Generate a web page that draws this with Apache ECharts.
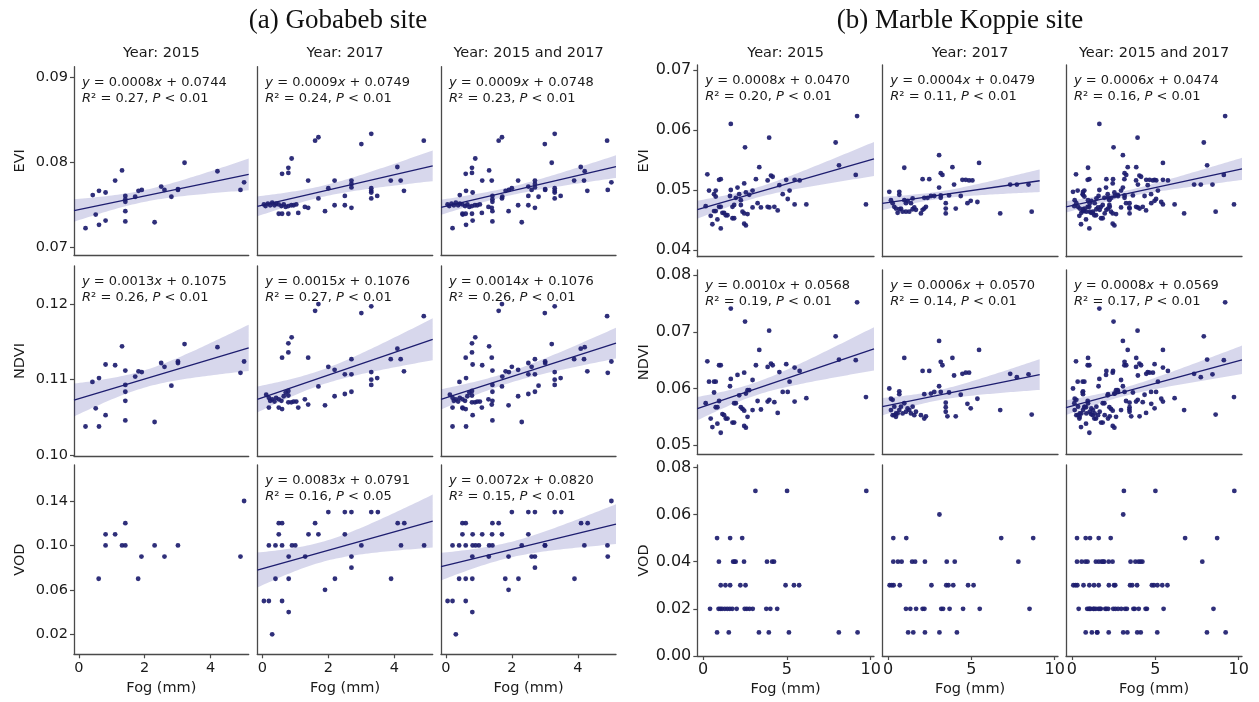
<!DOCTYPE html>
<html><head><meta charset="utf-8">
<script src="https://cdn.jsdelivr.net/npm/echarts@6/dist/echarts.min.js"></script>
<style>html,body{margin:0;padding:0;background:#fff}#c{width:1259px;height:702px}</style>
</head><body><div id="c"></div>
<script>
// ---------------- DATA ----------------
const colTitles = ['Year: 2015', 'Year: 2017', 'Year: 2015 and 2017'];
const rowNames = ['EVI', 'NDVI', 'VOD'];
const xName = 'Fog (mm)';
const siteTitles = ['(a) Gobabeb site', '(b) Marble Koppie site'];

const gobXTicks = [0, 2, 4];
const gobYTicks = [[0.07, 0.08, 0.09], [0.10, 0.11, 0.12], [0.02, 0.06, 0.10, 0.14]];
const mkXTicks = [0, 5, 10];
const mkYTicks = [[0.04, 0.05, 0.06, 0.07], [0.05, 0.06, 0.07, 0.08], [0.00, 0.02, 0.04, 0.06, 0.08]];

// Gobabeb 2015
const gobEvi2015 = [[0.2,0.0722],[0.42,0.0761],[0.51,0.0738],[0.61,0.0766],[0.61,0.0726],[0.81,0.0764],[0.81,0.0731],[1.1,0.0778],[1.31,0.079],[1.41,0.076],[1.41,0.0756],[1.41,0.0753],[1.41,0.0742],[1.41,0.073],[1.71,0.0759],[1.81,0.0766],[1.91,0.0767],[2.3,0.0729],[2.5,0.0771],[2.6,0.0767],[2.81,0.0759],[3.01,0.0767],[3.01,0.0768],[3.21,0.0799],[4.21,0.0789],[4.91,0.0767],[5.02,0.0776]];
const gobNdvi2015 = [[0.2,0.1038],[0.41,0.1097],[0.51,0.1062],[0.61,0.1102],[0.61,0.1038],[0.81,0.112],[0.81,0.1053],[1.1,0.1119],[1.31,0.1144],[1.41,0.1112],[1.41,0.1093],[1.41,0.1084],[1.41,0.1072],[1.41,0.1046],[1.71,0.1104],[1.81,0.1111],[1.91,0.111],[2.3,0.1044],[2.5,0.1122],[2.6,0.1117],[2.81,0.1092],[3.01,0.1122],[3.01,0.1124],[3.21,0.1147],[4.21,0.1143],[4.91,0.1109],[5.02,0.1124]];
const gobVod2015 = [[0.6,0.07],[0.81,0.11],[0.81,0.10],[1.1,0.11],[1.31,0.10],[1.41,0.10],[1.41,0.12],[1.8,0.07],[1.9,0.09],[2.3,0.10],[2.6,0.09],[3.01,0.10],[4.91,0.09],[5.02,0.14]];
// Gobabeb 2017
const gobEvi2017 = [[0.05,0.075],[0.1,0.0748],[0.17,0.0751],[0.24,0.0749],[0.3,0.0752],[0.37,0.0749],[0.42,0.0751],[0.5,0.075],[0.58,0.0748],[0.65,0.075],[0.71,0.0747],[0.79,0.0748],[0.88,0.0749],[0.95,0.0749],[1.03,0.075],[0.5,0.0739],[0.6,0.0739],[0.79,0.0739],[1.09,0.074],[0.6,0.0786],[0.79,0.0793],[0.79,0.0787],[0.89,0.0804],[1.29,0.0747],[1.39,0.0746],[1.39,0.0778],[1.6,0.0825],[1.7,0.0829],[1.7,0.0757],[1.9,0.0742],[2.0,0.0769],[2.19,0.0778],[2.19,0.0749],[2.5,0.076],[2.5,0.0749],[2.7,0.0778],[2.7,0.0774],[2.7,0.077],[2.7,0.0746],[3.0,0.0821],[3.3,0.0833],[3.3,0.0769],[3.3,0.0766],[3.3,0.0764],[3.3,0.0757],[3.48,0.076],[3.89,0.0778],[4.09,0.0794],[4.19,0.0778],[4.29,0.0766],[4.89,0.0825]];
const gobNdvi2017 = [[0.12,0.108],[0.2,0.1076],[0.24,0.1072],[0.3,0.1074],[0.37,0.1071],[0.42,0.1076],[0.5,0.1074],[0.58,0.1072],[0.65,0.1078],[0.71,0.1083],[0.79,0.1085],[0.79,0.1079],[0.88,0.107],[0.95,0.1071],[1.03,0.1071],[0.2,0.1063],[0.5,0.1063],[0.6,0.1061],[0.79,0.107],[0.6,0.1129],[0.79,0.1148],[0.79,0.1136],[0.89,0.1156],[1.09,0.1063],[1.29,0.1074],[1.39,0.1129],[1.39,0.1067],[1.6,0.1191],[1.7,0.12],[1.7,0.1091],[1.9,0.1066],[2.0,0.1117],[2.19,0.1113],[2.19,0.1078],[2.5,0.1107],[2.5,0.1081],[2.7,0.1127],[2.7,0.1107],[2.7,0.1084],[3.0,0.1188],[3.3,0.1197],[3.3,0.111],[3.3,0.11],[3.3,0.1093],[3.48,0.1102],[3.89,0.1127],[4.09,0.1141],[4.19,0.1127],[4.29,0.1111],[4.89,0.1184]];
const gobVod2017 = [[0.05,0.05],[0.2,0.05],[0.2,0.10],[0.3,0.02],[0.4,0.07],[0.4,0.10],[0.5,0.11],[0.5,0.12],[0.6,0.12],[0.6,0.10],[0.6,0.05],[0.8,0.09],[0.8,0.07],[0.8,0.04],[0.9,0.10],[1.0,0.10],[1.3,0.09],[1.4,0.11],[1.6,0.12],[1.7,0.11],[1.9,0.06],[2.0,0.13],[2.2,0.07],[2.5,0.13],[2.5,0.11],[2.7,0.13],[2.7,0.09],[2.7,0.08],[3.0,0.10],[3.3,0.13],[3.5,0.13],[3.9,0.07],[4.1,0.12],[4.2,0.10],[4.3,0.12],[4.9,0.10]];

// Marble Koppie 2015
const mkEvi2015 = [[1.65,0.061],[2.5,0.0571],[3.94,0.0587],[7.91,0.0579],[9.19,0.0623],[8.11,0.0541],[9.11,0.0525],[9.72,0.0476],[0.25,0.0526],[0.35,0.0499],[0.15,0.0473],[0.65,0.0493],[0.75,0.0489],[0.75,0.0499],[0.95,0.0517],[1.05,0.0518],[0.45,0.0457],[0.55,0.0443],[0.85,0.0451],[1.05,0.0436],[0.65,0.0465],[0.75,0.0465],[0.95,0.0472],[1.05,0.0472],[1.15,0.0462],[1.25,0.0462],[1.35,0.0458],[1.45,0.0458],[1.6,0.049],[1.65,0.05],[1.75,0.0453],[1.85,0.0453],[1.75,0.0472],[1.85,0.0475],[2.05,0.0504],[1.95,0.0487],[2.15,0.0493],[2.25,0.0475],[2.25,0.0483],[2.35,0.0464],[2.45,0.0461],[2.45,0.0511],[2.55,0.0496],[2.65,0.046],[2.45,0.0444],[2.55,0.0441],[2.75,0.0492],[2.95,0.0499],[2.95,0.0471],[3.15,0.0518],[3.25,0.0478],[3.35,0.0538],[3.45,0.0471],[3.85,0.0516],[4.05,0.0524],[4.15,0.0522],[3.85,0.0472],[3.95,0.0471],[4.25,0.0472],[4.45,0.0466],[4.55,0.0508],[4.75,0.0493],[4.96,0.0517],[5.05,0.0485],[5.16,0.0499],[5.46,0.0517],[5.46,0.0476],[5.76,0.0516],[6.16,0.0476]];
const mkNdvi2015 = [[1.65,0.0741],[2.5,0.0718],[3.94,0.0702],[7.91,0.0692],[9.19,0.0752],[8.11,0.0651],[9.11,0.065],[9.72,0.0585],[0.25,0.0648],[0.35,0.0612],[0.15,0.0574],[0.65,0.0612],[0.75,0.0612],[0.65,0.0593],[0.95,0.0641],[1.05,0.0641],[0.45,0.0547],[0.55,0.0532],[0.85,0.0538],[1.05,0.0522],[0.75,0.0567],[0.85,0.0567],[0.95,0.0578],[1.15,0.0555],[1.25,0.0553],[1.35,0.0547],[1.45,0.0547],[1.6,0.0604],[1.65,0.0617],[1.75,0.054],[1.85,0.054],[1.85,0.0574],[2.05,0.0624],[1.95,0.0574],[2.15,0.0588],[2.25,0.0567],[2.35,0.0564],[2.45,0.0561],[2.45,0.0628],[2.55,0.0591],[2.65,0.055],[2.45,0.0534],[2.55,0.0531],[2.65,0.0597],[2.75,0.0597],[2.95,0.0615],[2.95,0.0562],[3.15,0.0641],[3.25,0.0578],[3.35,0.0668],[3.45,0.0563],[3.85,0.0638],[4.05,0.0644],[4.15,0.0641],[3.85,0.0577],[3.95,0.058],[4.25,0.0576],[4.45,0.0557],[4.55,0.0629],[4.75,0.0594],[5.05,0.0594],[4.96,0.0643],[5.16,0.0612],[5.46,0.0637],[5.46,0.0577],[5.76,0.0631],[6.16,0.0583]];
const mkVod2015 = [[3.12,0.07],[5.01,0.07],[9.74,0.07],[0.83,0.05],[1.61,0.05],[2.33,0.05],[0.94,0.04],[1.79,0.04],[1.87,0.04],[1.94,0.04],[2.44,0.04],[3.81,0.04],[4.12,0.04],[4.23,0.04],[1.05,0.03],[1.33,0.03],[1.61,0.03],[2.22,0.03],[2.53,0.03],[4.92,0.03],[5.42,0.03],[5.73,0.03],[0.41,0.02],[0.92,0.02],[1.02,0.02],[1.13,0.02],[1.29,0.02],[1.44,0.02],[1.59,0.02],[1.74,0.02],[2.0,0.02],[2.48,0.02],[2.61,0.02],[2.77,0.02],[2.96,0.02],[3.77,0.02],[4.01,0.02],[4.42,0.02],[0.83,0.01],[1.53,0.01],[3.33,0.01],[3.92,0.01],[5.12,0.01],[8.1,0.01],[9.22,0.01]];
// Marble Koppie 2017
const mkEvi2017 = [[0.07,0.0497],[0.17,0.0483],[0.27,0.0478],[0.37,0.0472],[0.47,0.0469],[0.57,0.0462],[0.67,0.0468],[0.77,0.0469],[0.87,0.0464],[0.67,0.0497],[0.67,0.0492],[0.97,0.0483],[1.07,0.0478],[1.17,0.0482],[0.97,0.0537],[1.07,0.0464],[1.27,0.0464],[1.47,0.0468],[1.37,0.0478],[1.57,0.0471],[1.67,0.0467],[1.47,0.0486],[1.97,0.0461],[2.07,0.0467],[2.17,0.0469],[2.27,0.0472],[2.17,0.0487],[2.37,0.0487],[2.07,0.0518],[2.47,0.0518],[2.57,0.049],[2.77,0.049],[3.06,0.0558],[3.06,0.0504],[3.16,0.0528],[3.26,0.0525],[3.16,0.0491],[3.16,0.0487],[3.46,0.0478],[3.46,0.0469],[3.46,0.0461],[3.66,0.0491],[3.86,0.0538],[3.96,0.0509],[4.06,0.0469],[4.36,0.049],[4.46,0.0517],[4.66,0.0517],[4.86,0.0516],[5.06,0.0516],[4.76,0.0478],[4.96,0.0482],[5.36,0.048],[5.46,0.0545],[6.73,0.0461],[7.33,0.0509],[7.73,0.0509],[8.43,0.0509],[8.62,0.0464]];
const mkNdvi2017 = [[0.07,0.06],[0.17,0.0582],[0.27,0.058],[0.37,0.0568],[0.47,0.0556],[0.17,0.0562],[0.27,0.0553],[0.37,0.0553],[0.47,0.055],[0.57,0.0556],[0.67,0.0562],[0.77,0.0568],[0.87,0.0556],[0.97,0.0574],[1.07,0.0559],[1.17,0.0565],[1.27,0.0562],[1.37,0.0556],[1.47,0.0568],[1.57,0.0553],[1.67,0.0559],[0.67,0.0595],[0.67,0.059],[0.97,0.0654],[1.97,0.0553],[2.17,0.0547],[2.27,0.0551],[2.07,0.0631],[2.47,0.0631],[2.17,0.059],[2.57,0.0591],[2.77,0.0594],[3.06,0.0684],[3.06,0.0604],[3.16,0.0594],[3.16,0.0647],[3.26,0.0641],[3.46,0.0575],[3.46,0.0567],[3.46,0.0559],[3.56,0.0551],[3.66,0.0593],[3.86,0.0654],[3.96,0.0623],[4.46,0.0626],[4.66,0.0628],[4.86,0.0628],[4.06,0.0551],[4.36,0.0589],[4.76,0.0573],[4.96,0.0565],[5.36,0.0582],[5.46,0.0668],[6.73,0.0562],[7.33,0.0626],[7.73,0.062],[8.43,0.0625],[8.62,0.0554]];
const mkVod2017 = [[3.08,0.06],[0.31,0.05],[1.09,0.05],[6.79,0.05],[8.71,0.05],[0.31,0.04],[0.59,0.04],[0.81,0.04],[1.44,0.04],[1.62,0.04],[2.21,0.04],[3.52,0.04],[4.0,0.04],[7.82,0.04],[0.09,0.03],[0.22,0.03],[0.33,0.03],[0.7,0.03],[2.6,0.03],[3.49,0.03],[3.62,0.03],[3.91,0.03],[4.8,0.03],[5.13,0.03],[1.07,0.02],[1.33,0.02],[1.68,0.02],[2.07,0.02],[2.18,0.02],[3.19,0.02],[3.3,0.02],[3.69,0.02],[4.5,0.02],[5.5,0.02],[8.49,0.02],[1.2,0.01],[1.51,0.01],[2.21,0.01],[3.08,0.01],[4.13,0.01]];

// Fits: [slope, intercept, R2 text, P text, fit x end (null = axis end)]
const gobFits = [
  [[0.0008,0.0744,'0.27','0.01',null],[0.0009,0.0749,'0.24','0.01',null],[0.0009,0.0748,'0.23','0.01',null]],
  [[0.0013,0.1075,'0.26','0.01',null],[0.0015,0.1076,'0.27','0.01',null],[0.0014,0.1076,'0.26','0.01',null]],
  [null,[0.0083,0.0791,'0.16','0.05',null],[0.0072,0.0820,'0.15','0.01',null]]
];
const mkFits = [
  [[0.0008,0.0470,'0.20','0.01',null],[0.0004,0.0479,'0.11','0.01',9.1],[0.0006,0.0474,'0.16','0.01',null]],
  [[0.0010,0.0568,'0.19','0.01',null],[0.0006,0.0570,'0.14','0.01',9.1],[0.0008,0.0569,'0.17','0.01',null]],
  [null,null,null]
];

// ---------------- LAYOUT ----------------
const blocks = [
  { title: siteTitles[0], titleX: 338, tickFont: 14.5,
    cols: [[74,248.7],[257.3,432.7],[441,616]],
    rows: [[66.7,255],[266,456],[465,654.3]],
    xRange: [-0.15, 5.16], xTicks: gobXTicks,
    yRanges: [[0.06905,0.0912],[0.0999,0.12503],[0.002,0.1724]], yTicks: gobYTicks,
    data: [[gobEvi2015,gobEvi2017],[gobNdvi2015,gobNdvi2017],[gobVod2015,gobVod2017]],
    fits: gobFits },
  { title: siteTitles[1], titleX: 960, tickFont: 16,
    cols: [[697.3,874],[882.3,1058],[1066,1242]],
    rows: [[65,256.7],[270,454.3],[465,656]],
    xRange: [-0.35, 10.2], xTicks: mkXTicks,
    yRanges: [[0.0389,0.0708],[0.0484,0.0809],[0,0.081]], yTicks: mkYTicks,
    data: [[mkEvi2015,mkEvi2017],[mkNdvi2015,mkNdvi2017],[mkVod2015,mkVod2017]],
    fits: mkFits }
];

const FONT = 'DejaVu Sans';
const NAVY = '#1d1d6f';
const SPINE = '#4a4a4a';
const TXT = '#1a1a1a';

function bandPoints(pts, a, b, x0, x1) {
  const n = pts.length;
  const mx = pts.reduce((s,p)=>s+p[0],0)/n;
  let sxx = 0, sse = 0;
  pts.forEach(p => { sxx += (p[0]-mx)**2; const r = p[1]-(a+b*p[0]); sse += r*r; });
  const s = Math.sqrt(sse/(n-2));
  const t = 1.96 + 2.5/(n-2);
  const up = [], lo = [];
  for (let i = 0; i <= 60; i++) {
    const x = x0 + (x1-x0)*i/60;
    const h = t*s*Math.sqrt(1/n + (x-mx)**2/sxx);
    const y = a + b*x;
    up.push([x, y+h]); lo.push([x, y-h]);
  }
  return up.concat(lo.reverse());
}

const grid = [], xAxis = [], yAxis = [], series = [], graphic = [];
let k = 0;
blocks.forEach(B => {
  graphic.push({ type:'text', x:B.titleX, y:21, style:{ text:B.title, fontFamily:'Liberation Serif', fontSize:27, fill:'#111', align:'center', verticalAlign:'middle', textAlign:'center', textVerticalAlign:'middle' } });
  B.cols.forEach((c, ci) => {
    graphic.push({ type:'text', x:(c[0]+c[1])/2, y:53, style:{ text:colTitles[ci], fontFamily:FONT, fontSize:14.5, fill:TXT, align:'center', verticalAlign:'middle', textAlign:'center', textVerticalAlign:'middle' } });
  });
  B.rows.forEach((r, ri) => {
    B.cols.forEach((c, ci) => {
      grid.push({ left:c[0], top:r[0], width:c[1]-c[0], height:r[1]-r[0], containLabel:false });
      const bottom = ri === 2, first = ci === 0;
      xAxis.push({ gridIndex:k, type:'value', min:B.xRange[0], max:B.xRange[1],
        axisLine:{ show:true, onZero:false, lineStyle:{ color:SPINE, width:1.3 } },
        axisTick:{ show:bottom, customValues:B.xTicks, length:4, lineStyle:{ color:SPINE, width:1.2 } },
        axisLabel:{ show:bottom, customValues:B.xTicks, fontFamily:FONT, fontSize:B.tickFont, color:TXT, margin:6, formatter:v=>String(v) },
        splitLine:{ show:false },
        name: bottom ? xName : '', nameLocation:'middle', nameGap:26,
        nameTextStyle:{ fontFamily:FONT, fontSize:14.5, color:TXT } });
      yAxis.push({ gridIndex:k, type:'value', min:B.yRanges[ri][0], max:B.yRanges[ri][1],
        axisLine:{ show:true, onZero:false, lineStyle:{ color:SPINE, width:1.3 } },
        axisTick:{ show:first, customValues:B.yTicks[ri], length:4, lineStyle:{ color:SPINE, width:1.2 } },
        axisLabel:{ show:first, customValues:B.yTicks[ri], fontFamily:FONT, fontSize:B.tickFont, color:TXT, margin:6, formatter:v=>v.toFixed(2) },
        splitLine:{ show:false },
        name: first ? rowNames[ri] : '', nameLocation:'middle', nameRotate:90, nameGap:46,
        nameTextStyle:{ fontFamily:FONT, fontSize:14.5, color:TXT } });

      const pts = ci === 2 ? B.data[ri][0].concat(B.data[ri][1]) : B.data[ri][ci];
      series.push({ type:'scatter', xAxisIndex:k, yAxisIndex:k, data:pts, symbolSize:4.8,
        itemStyle:{ color:NAVY, opacity:0.92 }, z:3, silent:true });

      const f = B.fits[ri][ci];
      if (f) {
        const a = f[1], b = f[0];
        const x0 = B.xRange[0], x1 = f[4] == null ? B.xRange[1] : f[4];
        const poly = bandPoints(pts, a, b, x0, x1);
        series.push({ type:'custom', xAxisIndex:k, yAxisIndex:k, data:[0], silent:true, z:2, clip:true,
          renderItem:(params, api) => ({ type:'polygon', shape:{ points: poly.map(p => api.coord(p)) },
            style:{ fill:'rgba(20,20,140,0.17)' } }) });
        series.push({ type:'line', xAxisIndex:k, yAxisIndex:k, data:[[x0, a+b*x0],[x1, a+b*x1]],
          symbol:'none', lineStyle:{ color:NAVY, width:1.3 }, z:4, silent:true, animation:false });
        const tx = c[0] + 8;
        const rich = { i:{ fontFamily:FONT, fontSize:13, fontStyle:'italic', fill:TXT, color:TXT }, n:{ fontFamily:FONT, fontSize:13, fill:TXT, color:TXT } };
        graphic.push({ type:'text', x:tx, y:r[0]+15.5, style:{ text:'{i|y}{n| = ' + b.toFixed(4) + '}{i|x}{n| + ' + a.toFixed(4) + '}', rich, fontFamily:FONT, fontSize:13, fill:TXT, align:'left', verticalAlign:'middle', textAlign:'left', textVerticalAlign:'middle' } });
        graphic.push({ type:'text', x:tx, y:r[0]+32, style:{ text:'{i|R}{n|² = ' + f[2] + ', }{i|P}{n| < ' + f[3] + '}', rich, fontFamily:FONT, fontSize:13, fill:TXT, align:'left', verticalAlign:'middle', textAlign:'left', textVerticalAlign:'middle' } });
      }
      k++;
    });
  });
});

const chart = echarts.init(document.getElementById('c'), null, { renderer:'canvas' });
chart.setOption({ animation:false, backgroundColor:'#fff', grid, xAxis, yAxis, series, graphic });
</script>
</body></html>
